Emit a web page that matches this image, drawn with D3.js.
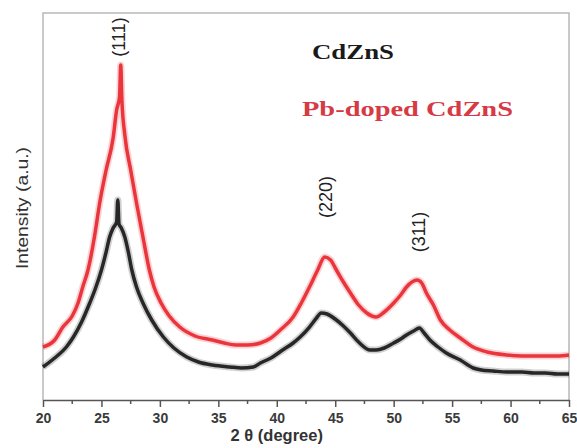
<!DOCTYPE html>
<html><head><meta charset="utf-8">
<script src="https://cdn.jsdelivr.net/npm/d3@7"></script>
<style>body{margin:0;background:#fff}svg{display:block}</style>
</head><body>
<script>
const xTicks = [20,25,30,35,40,45,50,55,60,65];
const xMinor = [22.5,27.5,32.5,37.5,42.5,47.5,52.5,57.5,62.5];
const cdznsTheta = [20,21,22,22.6,23.3,24,24.5,25,25.4,25.7,26,26.3,26.4,26.5,26.7,27,27.3,27.6,28,28.55,29.3,30.3,31.2,32.3,33.3,34.5,36,37,38,38.6,39.5,40.5,41.4,42,42.8,43.4,43.8,44.3,45.1,45.7,46.3,47,48,48.5,49.2,50,50.6,51.1,51.7,52.2,52.6,53.1,53.8,54.5,55.7,56.8,57.5,58.5,59.7,61,62,63,64,65];
const cdzns = [33,42,53,63,78,97,112,130,148,163,172,178,200,176,172,163,148,130,113,97,80,63,52,43,38,35,33,32,33,37,42,50,57,63,73,82,87,86,80,74,67,58,50,50,52,57,61,65,69,72,67,60,53,47,40,32,30,29,28,28,27,27,26,26];
const pbTheta = [20,21,21.7,22.5,23,23.4,23.85,24.4,24.85,25.4,26,26.3,26.55,26.65,26.75,27,27.5,28,28.55,29.1,29.5,30.1,30.8,31.7,33,34.5,35.5,36.5,37.5,38.6,39.5,40.3,41.4,42.1,42.8,43.5,44.1,44.6,45.1,45.7,46.3,47,47.7,48.5,49.2,50,50.6,51.1,52,52.4,52.8,53.4,54,54.8,55.7,56.8,58,59.7,61,62.5,64,65];
const pbCdzns = [53,60,73,84,97,113,130,163,197,230,262,290,303,335,300,265,230,197,163,130,113,97,84,73,64,60,57,55,55,57,62,70,83,97,113,130,143,140,130,118,107,95,87,83,88,97,105,113,120,117,107,95,80,70,62,53,48,45,44,44,44,45];
const peaks = [{label:"(111)", x:26.5, y:363}, {label:"(220)", x:44.2, y:203}, {label:"(311)", x:52.1, y:168}];
const legend = [{name:"CdZnS", color:"#1a1a1a"}, {name:"Pb-doped CdZnS", color:"#d63a44"}];

const W=577,H=448, L=43, R=569, T=13, B=400;
const svg = d3.select("body").append("svg").attr("width",W).attr("height",H);
const x = d3.scaleLinear().domain([20,65]).range([L,R]);
const y = d3.scaleLinear().domain([0,387]).range([B,T]);

svg.append("path").attr("d",`M${L},${B}V${T}H${R}V${B}`).attr("fill","none").attr("stroke","#b8b8b8").attr("stroke-width",1.5);

const mk = xs => d3.line().x((d,i)=>x(xs[i])).y(d=>y(d)).curve(d3.curveMonotoneX);
const series = [{xs:pbTheta, ys:pbCdzns, c:"#e8242b"}, {xs:cdznsTheta, ys:cdzns, c:"#141414"}];
series.forEach(s=>{
  svg.append("path").datum(s.ys).attr("d",mk(s.xs)).attr("fill","none").attr("stroke",s.c).attr("stroke-opacity",0.2).attr("stroke-width",7).attr("stroke-linejoin","round");
  svg.append("path").datum(s.ys).attr("d",mk(s.xs)).attr("fill","none").attr("stroke",s.c).attr("stroke-opacity",0.9).attr("stroke-width",3.5).attr("stroke-linejoin","round");
});

const ax = svg.append("g").attr("transform",`translate(0,${B})`)
  .call(d3.axisBottom(x).tickValues(xTicks).tickSize(7).tickSizeOuter(0).tickFormat(d3.format("d")));
ax.select(".domain").attr("stroke","#555").attr("stroke-width",1.5);
ax.selectAll(".tick line").attr("stroke","#555").attr("stroke-width",1.5);
ax.selectAll(".tick text").attr("y",13).attr("font-family","Liberation Sans, Arial, sans-serif").attr("font-size",14).attr("font-weight","bold").attr("fill","#3a3a3a");
const mn = svg.append("g").attr("transform",`translate(0,${B})`);
mn.selectAll("line").data(xMinor).join("line").attr("x1",d=>x(d)).attr("x2",d=>x(d)).attr("y1",0).attr("y2",4).attr("stroke","#555").attr("stroke-width",1.5);

svg.append("text").attr("x",x(40)).attr("y",441).attr("text-anchor","middle")
  .attr("font-family","Liberation Sans, Arial, sans-serif").attr("font-size",16.5).attr("font-weight","bold").attr("fill","#333").text("2 θ (degree)");
svg.append("text").attr("transform",`translate(22,208) rotate(-90)`).attr("text-anchor","middle").attr("dy","0.35em")
  .attr("font-family","Liberation Sans, Arial, sans-serif").attr("font-size",17).attr("fill","#333")
  .attr("textLength",122).attr("lengthAdjust","spacingAndGlyphs").text("Intensity (a.u.)");

svg.selectAll(".pk").data(peaks).join("text").attr("class","pk")
  .attr("transform",d=>`translate(${x(d.x)},${y(d.y)}) rotate(-90)`).attr("text-anchor","middle").attr("dy","0.35em")
  .attr("font-family","Liberation Sans, Arial, sans-serif").attr("font-size",18).attr("fill","#222").text(d=>d.label);

svg.selectAll(".lg").data(legend).join("text").attr("class","lg")
  .attr("x",(d,i)=>i===0?312:302).attr("y",(d,i)=>i===0?59:116)
  .attr("textLength",(d,i)=>i===0?82:211).attr("lengthAdjust","spacingAndGlyphs")
  .attr("font-family","Liberation Serif, Times New Roman, serif").attr("font-size",22).attr("font-weight","bold")
  .attr("fill",d=>d.color).text(d=>d.name);
</script>
</body></html>
